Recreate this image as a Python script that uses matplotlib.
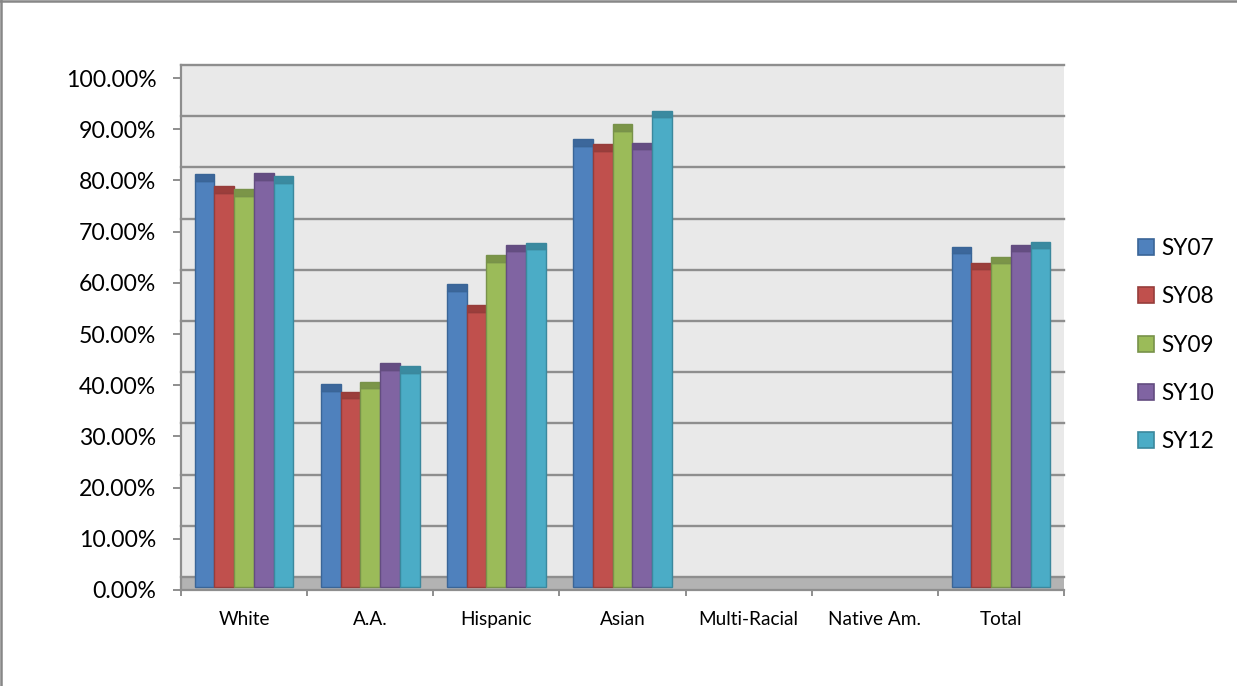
import matplotlib
matplotlib.use("Agg")
import matplotlib.pyplot as plt
import numpy as np
from matplotlib.transforms import ScaledTranslation
from matplotlib.patches import Patch, Rectangle
from matplotlib.lines import Line2D

plt.rcParams['font.family'] = ['Lato', 'DejaVu Sans']

# Graduation rates by group and school year (percent)
categories = ["White", "A.A.", "Hispanic", "Asian", "Multi-Racial", "Native Am.", "Total"]
series_names = ["SY07", "SY08", "SY09", "SY10", "SY12"]
sy07 = [79.3, 38.3, 57.9, 86.2, 0, 0, 65.2]
sy08 = [77.0, 36.9, 53.8, 85.2, 0, 0, 62.1]
sy09 = [76.4, 38.8, 63.5, 89.1, 0, 0, 63.2]
sy10 = [79.5, 42.4, 65.6, 85.5, 0, 0, 65.6]
sy12 = [79.0, 41.8, 66.0, 91.7, 0, 0, 66.2]
y_ticks = [0, 10, 20, 30, 40, 50, 60, 70, 80, 90, 100]

series = [sy07, sy08, sy09, sy10, sy12]
face_colors = ["#4F81BD", "#C0504D", "#9BBB59", "#8064A2", "#4BACC6"]
edge_colors = ["#3A6597", "#963D3B", "#78924A", "#634D80", "#3B889D"]
cap_colors = ["#3C679B", "#9C3E3B", "#7B9548", "#654D83", "#3A8AA0"]

W, H, DPI = 1237, 686, 100
fig = plt.figure(figsize=(W / DPI, H / DPI), dpi=DPI)
fig.patch.set_facecolor("white")

# plot area in pixels
left_px, right_px, top_px, bottom_px = 181, 1064, 65, 590
px_per_pct = 5.12
ax = fig.add_axes([left_px / W, 1 - bottom_px / H,
                   (right_px - left_px) / W, (bottom_px - top_px) / H])
ax.set_facecolor("#E9E9E9")
ax.set_xlim(-0.5, len(categories) - 0.5)
ax.set_ylim(0, (bottom_px - top_px) / px_per_pct)

grid_col = "#8E8E8E"
# depth offsets for the 3-D look
wall_shift = ScaledTranslation(0, 13 / DPI, fig.dpi_scale_trans)
bar_shift = ScaledTranslation(0, 3 / DPI, fig.dpi_scale_trans)

# floor
floor_h = 13 / (bottom_px - top_px)
ax.add_patch(Rectangle((0, 0), 1, floor_h, transform=ax.transAxes,
                       facecolor="#B3B3B3", edgecolor="none", zorder=1))

# back-wall gridlines
for v in y_ticks:
    ax.add_line(Line2D([0, 1], [v, v], transform=ax.get_yaxis_transform() + wall_shift,
                       color=grid_col, lw=1.7, zorder=1.5, clip_on=False))

x = np.arange(len(categories))
n = len(series)
bw = 0.1566
cap_h = 6.5 / px_per_pct
for i, (vals, fc, ec, cc) in enumerate(zip(series, face_colors, edge_colors, cap_colors)):
    pos = x + (i - (n - 1) / 2) * bw
    vals = np.asarray(vals, dtype=float)
    widths = [1.0 if v > 0 else 0.0 for v in vals]
    ax.bar(pos, vals, width=bw, color=fc, edgecolor=ec, linewidth=widths,
           transform=ax.transData + bar_shift, zorder=3)
    shown = vals > 0
    ax.bar(pos[shown], np.full(shown.sum(), cap_h), bottom=vals[shown], width=bw,
           color=cc, edgecolor=ec, linewidth=1.0,
           transform=ax.transData + bar_shift, zorder=3)

# axes styling
for s in ["top", "right"]:
    ax.spines[s].set_visible(False)
for s in ["left", "bottom"]:
    ax.spines[s].set_color(grid_col)
    ax.spines[s].set_linewidth(1.6)
    ax.spines[s].set_zorder(4)

ax.set_yticks(y_ticks)
ax.set_yticklabels([f"{v:.2f}%" for v in y_ticks])
ax.tick_params(axis="y", length=5.8, width=1.4, color=grid_col, pad=12,
               labelsize=16.6, labelcolor="black")

ax.set_xticks(x)
ax.set_xticklabels(categories)
ax.set_xticks(np.arange(-0.5, len(categories)), minor=True)
ax.tick_params(axis="x", which="major", length=0, pad=15, labelsize=13.7, labelcolor="black")
ax.tick_params(axis="x", which="minor", length=4.5, width=1.4, color=grid_col)

handles = [Patch(facecolor=fc, edgecolor=ec, linewidth=1.2) for fc, ec in zip(face_colors, edge_colors)]
fig.legend(handles, series_names, loc="center left", bbox_to_anchor=(1138 / W, 1 - 345 / H),
           frameon=False, fontsize=16.3, handlelength=0.72, handleheight=0.72,
           handletextpad=0.3, labelspacing=1.21, borderpad=0, borderaxespad=0)

# chart-area border
fig.add_artist(Line2D([0, 1], [1 - 1.2 / H, 1 - 1.2 / H], transform=fig.transFigure,
                      color="#878787", lw=1.8))
fig.add_artist(Line2D([1.2 / W, 1.2 / W], [0, 1], transform=fig.transFigure,
                      color="#878787", lw=1.8))

fig.savefig("out.png", dpi=DPI)
